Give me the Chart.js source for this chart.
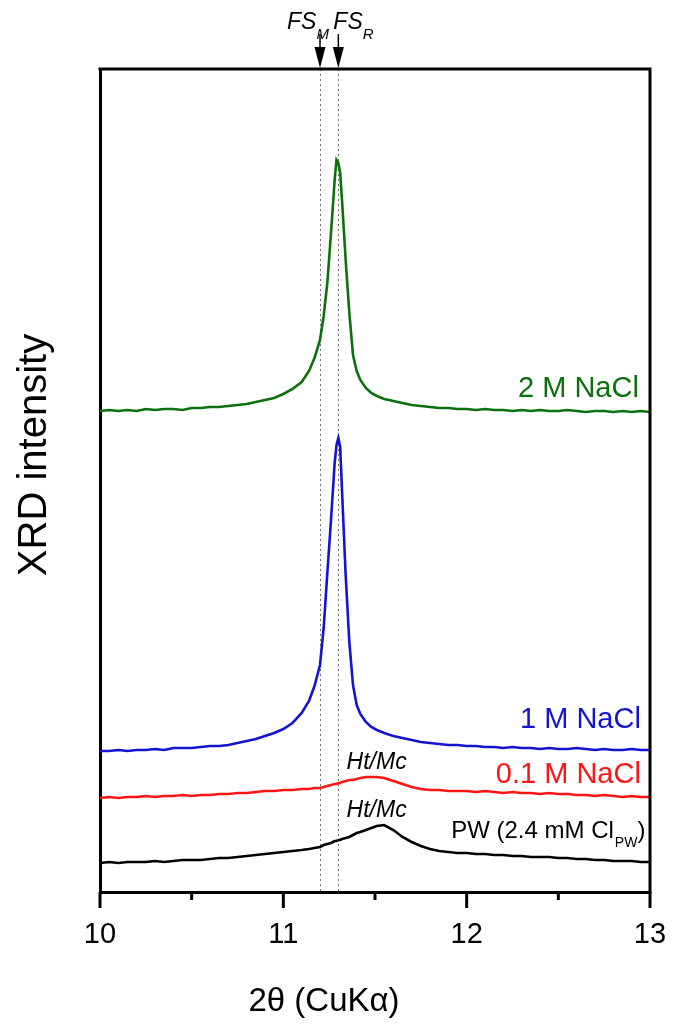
<!DOCTYPE html>
<html>
<head>
<meta charset="utf-8">
<script src="https://cdn.jsdelivr.net/npm/chart.js@4.4.1/dist/chart.umd.min.js"></script>
<style>
html, body { margin: 0; padding: 0; background: #fff; }
#wrap { width: 681px; height: 1024px; }
</style>
</head>
<body>
<div id="wrap"><canvas id="xrd" width="681" height="1024"></canvas></div>
<script>
// 2theta grid (deg, CuKa) shared by all patterns
const twoTheta = [
  10.00, 10.05, 10.10, 10.15, 10.20, 10.25, 10.30, 10.35, 10.40, 10.45, 10.50, 10.55,
  10.60, 10.65, 10.70, 10.75, 10.80, 10.85, 10.90, 10.95, 11.00, 11.05, 11.10,
  11.14, 11.17, 11.20, 11.22, 11.24, 11.26, 11.28, 11.29, 11.30, 11.31, 11.32, 11.34,
  11.36, 11.38, 11.40, 11.42, 11.45, 11.48, 11.51, 11.55,
  11.60, 11.65, 11.70, 11.75, 11.80, 11.85, 11.90, 11.95, 12.00,
  12.05, 12.10, 12.15, 12.20, 12.25, 12.30, 12.35, 12.40, 12.45, 12.50,
  12.55, 12.60, 12.65, 12.70, 12.75, 12.80, 12.85, 12.90, 12.95, 13.00
];

// intensities (a.u., already offset for stacking)
const nacl2M = [
  481, 482, 481, 482, 481, 483, 482, 483, 483, 482, 484, 484, 485, 485, 486, 487, 488, 490, 492, 494, 498, 503, 510,
  521, 534, 552, 576, 609, 659, 712, 732, 729, 719, 692, 632, 579, 537, 521, 512, 504, 499, 496, 493,
  491, 489, 487, 486, 485, 484, 484, 483, 483, 482, 483, 482, 482, 481, 482, 481, 482, 481, 481,
  482, 481, 480, 481, 481, 480, 481, 480, 481, 480
];
const nacl1M = [
  141, 141, 142, 141, 142, 142, 143, 142, 144, 144, 144, 145, 146, 146, 147, 149, 151, 153, 156, 159, 163, 169, 179,
  191, 206, 227, 264, 319, 372, 429, 447, 454, 445, 402, 317, 250, 207, 187, 178, 170, 165, 162, 159,
  156, 154, 152, 150, 149, 148, 147, 147, 146, 146, 145, 145, 144, 145, 144, 144, 143, 144, 143,
  143, 144, 143, 142, 143, 142, 142, 143, 142, 142
];
const nacl01M = [
  94, 95, 94, 95, 95, 96, 95, 96, 96, 97, 96, 97, 97, 98, 98, 99, 99, 100, 101, 101, 102, 102, 103,
  103, 104, 104, 105, 106, 107, 108, 108, 109, 109, 110, 111, 112, 112, 113, 114, 115, 115, 115, 114,
  111, 108, 105, 103, 102, 102, 101, 101, 101, 100, 101, 100, 99, 100, 99, 99, 98, 99, 98,
  98, 97, 97, 96, 97, 96, 95, 96, 95, 95
];
const porewater = [
  29, 30, 29, 30, 30, 30, 31, 30, 31, 32, 32, 32, 33, 34, 34, 35, 36, 37, 38, 39, 40, 41, 42,
  43, 44, 45, 47, 48, 49, 51, 51, 52, 52, 53, 54, 55, 57, 59, 60, 62, 64, 66, 67,
  62, 55, 50, 46, 43, 41, 40, 39, 39, 38, 38, 37, 37, 36, 36, 35, 35, 35, 34,
  34, 33, 33, 32, 32, 31, 31, 31, 30, 30
];

const seriesNames = ['2 M NaCl', '1 M NaCl', '0.1 M NaCl', 'PW (2.4 mM Cl'];
const seriesColors = ['#0c700c', '#1414d0', '#ff1414', '#000000'];
const seriesData = [nacl2M, nacl1M, nacl01M, porewater];

// FS_M / FS_R reference positions
const fsPositions = [11.2, 11.3];
const fsSubs = ['M', 'R'];

const xTicks = [10, 11, 12, 13];

const FONT = '"Liberation Sans", Arial, sans-serif';

function pts(arr) {
  return arr.map((v, i) => ({ x: twoTheta[i], y: v }));
}

const overlay = {
  id: 'overlay',
  beforeDatasetsDraw(chart) {
    const { ctx, chartArea: a, scales: { x } } = chart;
    ctx.save();
    ctx.strokeStyle = '#707070';
    ctx.lineWidth = 1;
    ctx.setLineDash([2, 3]);
    fsPositions.forEach(v => {
      const px = Math.round(x.getPixelForValue(v)) + 0.5;
      ctx.beginPath();
      ctx.moveTo(px, a.top);
      ctx.lineTo(px, a.bottom);
      ctx.stroke();
    });
    ctx.restore();
  },
  afterDraw(chart) {
    const { ctx, chartArea: a, scales: { x, y } } = chart;
    ctx.save();

    // top and right frame
    ctx.strokeStyle = '#000';
    ctx.lineWidth = 3;
    ctx.beginPath();
    ctx.moveTo(a.left - 1.5, a.top);
    ctx.lineTo(a.right, a.top);
    ctx.lineTo(a.right, a.bottom + 1.5);
    ctx.stroke();

    // tick marks, long on integers
    x.ticks.forEach(t => {
      const px = x.getPixelForValue(t.value);
      const len = Number.isInteger(t.value) ? 16 : 8;
      ctx.beginPath();
      ctx.moveTo(px, a.bottom);
      ctx.lineTo(px, a.bottom + len);
      ctx.stroke();
    });

    // arrows + FS labels
    ctx.fillStyle = '#000';
    ctx.lineWidth = 1.5;
    fsPositions.forEach((v, i) => {
      const px = x.getPixelForValue(v);
      ctx.beginPath();
      ctx.moveTo(px, 34);
      ctx.lineTo(px, 50);
      ctx.stroke();
      ctx.beginPath();
      ctx.moveTo(px - 5.5, 47);
      ctx.lineTo(px + 5.5, 47);
      ctx.lineTo(px, a.top - 1);
      ctx.closePath();
      ctx.fill();

      const left = i === 0 ? px - 33 : px - 5;
      ctx.textAlign = 'left';
      ctx.textBaseline = 'alphabetic';
      ctx.font = 'italic 23px ' + FONT;
      ctx.fillText('FS', left, 29);
      const w = ctx.measureText('FS').width;
      ctx.font = 'italic 15px ' + FONT;
      ctx.fillText(fsSubs[i], left + w, 39);
    });

    // series labels, right aligned
    const xr = x.getPixelForValue(12.95);
    ctx.textAlign = 'right';
    ctx.font = '29px ' + FONT;
    ctx.fillStyle = seriesColors[0];
    ctx.fillText(seriesNames[0], xr - 2, y.getPixelForValue(495));
    ctx.fillStyle = seriesColors[1];
    ctx.fillText(seriesNames[1], xr, y.getPixelForValue(164));
    ctx.fillStyle = seriesColors[2];
    ctx.fillText(seriesNames[2], xr, y.getPixelForValue(109));

    // PW label with subscript
    const pwRight = x.getPixelForValue(12.975);
    const pwBase = y.getPixelForValue(54);
    ctx.fillStyle = seriesColors[3];
    ctx.font = '24px ' + FONT;
    const wClose = ctx.measureText(')').width;
    ctx.fillText(')', pwRight, pwBase);
    ctx.font = '14px ' + FONT;
    const wSub = ctx.measureText('PW').width;
    ctx.fillText('PW', pwRight - wClose, pwBase + 9);
    ctx.font = '24px ' + FONT;
    ctx.fillText(seriesNames[3], pwRight - wClose - wSub - 1, pwBase);

    // Ht/Mc marks
    ctx.textAlign = 'left';
    ctx.font = 'italic 23px ' + FONT;
    ctx.fillText('Ht/Mc', x.getPixelForValue(11.345), y.getPixelForValue(123));
    ctx.fillText('Ht/Mc', x.getPixelForValue(11.345), y.getPixelForValue(75));

    // axis titles
    ctx.textAlign = 'center';
    ctx.font = '33px ' + FONT;
    ctx.fillText('2\u03B8 (CuK\u03B1)', 324, 1011);

    ctx.translate(46, 455);
    ctx.rotate(-Math.PI / 2);
    ctx.font = '40px ' + FONT;
    ctx.fillText('XRD intensity', 0, 0);

    ctx.restore();
  }
};

new Chart(document.getElementById('xrd'), {
  type: 'line',
  data: {
    datasets: seriesData.map((d, i) => ({
      label: seriesNames[i],
      data: pts(d),
      borderColor: seriesColors[i],
      borderWidth: 2.6,
      pointRadius: 0,
      tension: 0,
      fill: false
    }))
  },
  options: {
    responsive: false,
    devicePixelRatio: 1,
    animation: false,
    layout: { padding: { top: 69, right: 31, left: 0, bottom: 0 } },
    plugins: { legend: { display: false }, tooltip: { enabled: false } },
    scales: {
      x: {
        type: 'linear',
        min: 10,
        max: 13,
        grid: { display: false, drawTicks: false },
        border: { display: true, width: 3, color: '#000' },
        ticks: {
          stepSize: 0.5,
          autoSkip: false,
          maxRotation: 0,
          padding: 26,
          color: '#000',
          font: { family: FONT, size: 29 },
          callback: v => xTicks.includes(v) ? String(v) : ''
        },
        afterFit: s => {
          s.height = 132;
          s.paddingLeft = 0;
          s.paddingRight = 0;
        }
      },
      y: {
        min: 0,
        max: 823,
        grid: { display: false, drawTicks: false },
        border: { display: true, width: 3, color: '#000' },
        ticks: { display: false },
        afterFit: s => { s.width = 100; }
      }
    }
  },
  plugins: [overlay]
});
</script>
</body>
</html>
